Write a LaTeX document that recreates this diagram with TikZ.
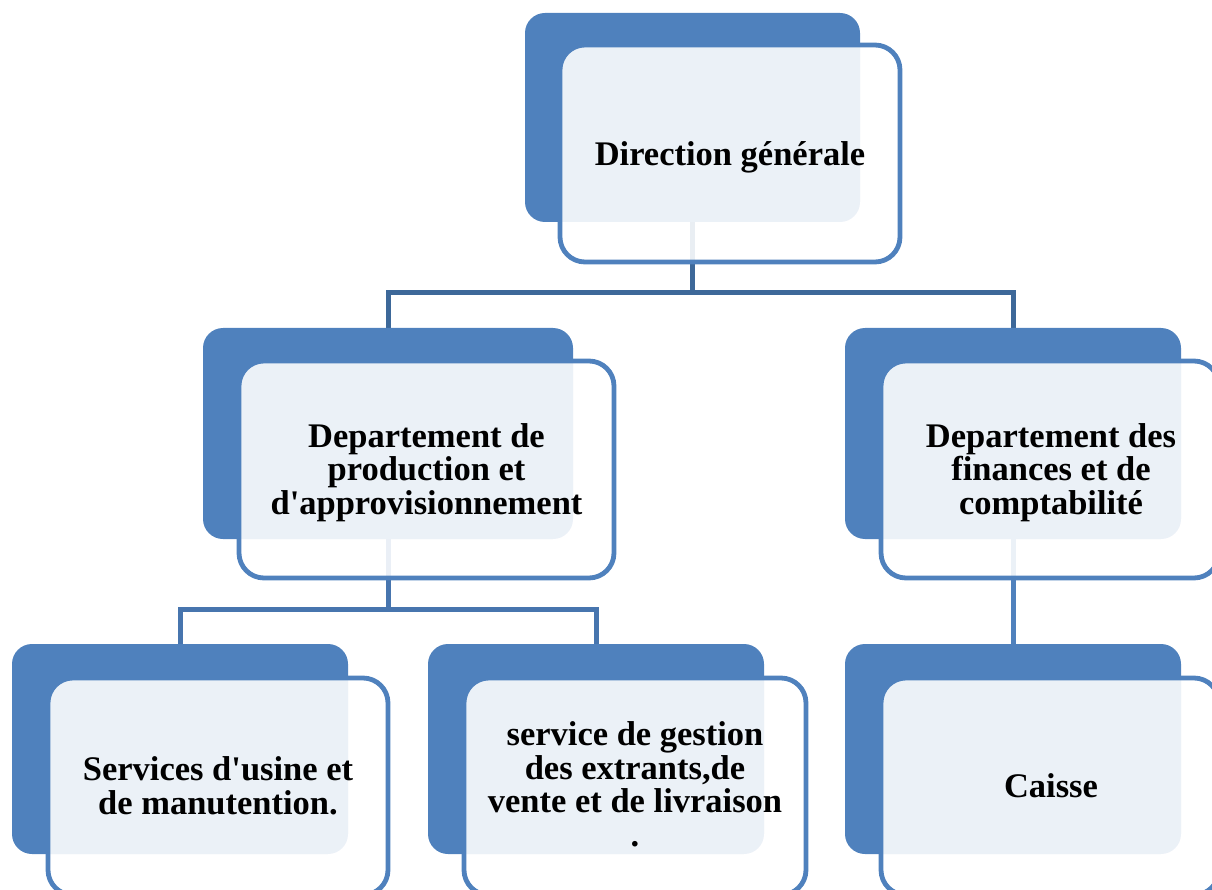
\documentclass[tikz,border=0pt]{standalone}
\usepackage{fontspec}
\setmainfont{Liberation Serif}
\pgfdeclarelayer{background}
\pgfsetlayers{background,main}
\definecolor{backblue}{HTML}{4F81BD}
\definecolor{linetop}{HTML}{3D6899}
\definecolor{linemid}{HTML}{4775AE}
\tikzset{
  backbox/.style={fill=backblue, draw=none, rounded corners=20pt, inner sep=0pt},
  frontbox/.style={draw=backblue, line width=4.8pt, fill=white, fill opacity=0.89, rounded corners=25pt, inner sep=0pt},
  label/.style={text=black, align=center, inner sep=0pt, font=\fontsize{34.5}{33.5}\selectfont\bfseries},
  conn/.style={line width=5pt},
}
\begin{document}
\begin{tikzpicture}[x=1pt,y=-1pt]
\useasboundingbox (0,0) rectangle (1212,890);
\clip (0,0) rectangle (1212,890);
% level 1
\node[backbox, minimum width=335pt, minimum height=209pt] (b1) at (692.5,117.5) {};
\node[frontbox, minimum width=340pt, minimum height=217pt] (f1) at (730,153.5) {};
\node[label] (t1) at (730,157) {Direction générale};
% level 2
\node[backbox, minimum width=370pt, minimum height=211pt] (b2) at (388,433.5) {};
\node[frontbox, minimum width=375pt, minimum height=217pt] (f2) at (426.5,469.5) {};
\node[label] (t2) at (426.5,472.5) {Departement de\\production et\\d\textquotesingle approvisionnement};
\node[backbox, minimum width=336pt, minimum height=211pt] (b3) at (1013,433.5) {};
\node[frontbox, minimum width=338pt, minimum height=217pt] (f3) at (1050,469.5) {};
\node[label] (t3) at (1051,472.5) {Departement des\\finances et de\\comptabilité};
% level 3
\node[backbox, minimum width=336pt, minimum height=210pt] (b4) at (180,749) {};
\node[frontbox, minimum width=340pt, minimum height=217pt] (f4) at (218,786.5) {};
\node[label] (t4) at (218,786) {Services d\textquotesingle usine et\\de manutention.};
\node[backbox, minimum width=336pt, minimum height=210pt] (b5) at (596,749) {};
\node[frontbox, minimum width=342pt, minimum height=217pt] (f5) at (635,786.5) {};
\node[label] (t5) at (635,784.5) {service de gestion\\des extrants,de\\vente et de livraison\\.};
\node[backbox, minimum width=336pt, minimum height=210pt] (b6) at (1013,749) {};
\node[frontbox, minimum width=338pt, minimum height=217pt] (f6) at (1050,786.5) {};
\node[label] (t6) at (1051,786) {Caisse};
% connectors
\begin{pgfonlayer}{background}
\draw[conn, linetop] (b1.south) -- (b1.south |- 0,293) coordinate (h1);
\draw[conn, linetop] (h1) -| (b2.north);
\draw[conn, linetop] (h1) -| (b3.north);
\draw[conn, linemid] (b2.south) -- (b2.south |- 0,609) coordinate (h2);
\draw[conn, linemid] (h2) -| (b4.north);
\draw[conn, linemid] (h2) -| (b5.north);
\draw[conn, backblue] (b3.south) -- (b6.north);
\end{pgfonlayer}
\end{tikzpicture}
\end{document}
